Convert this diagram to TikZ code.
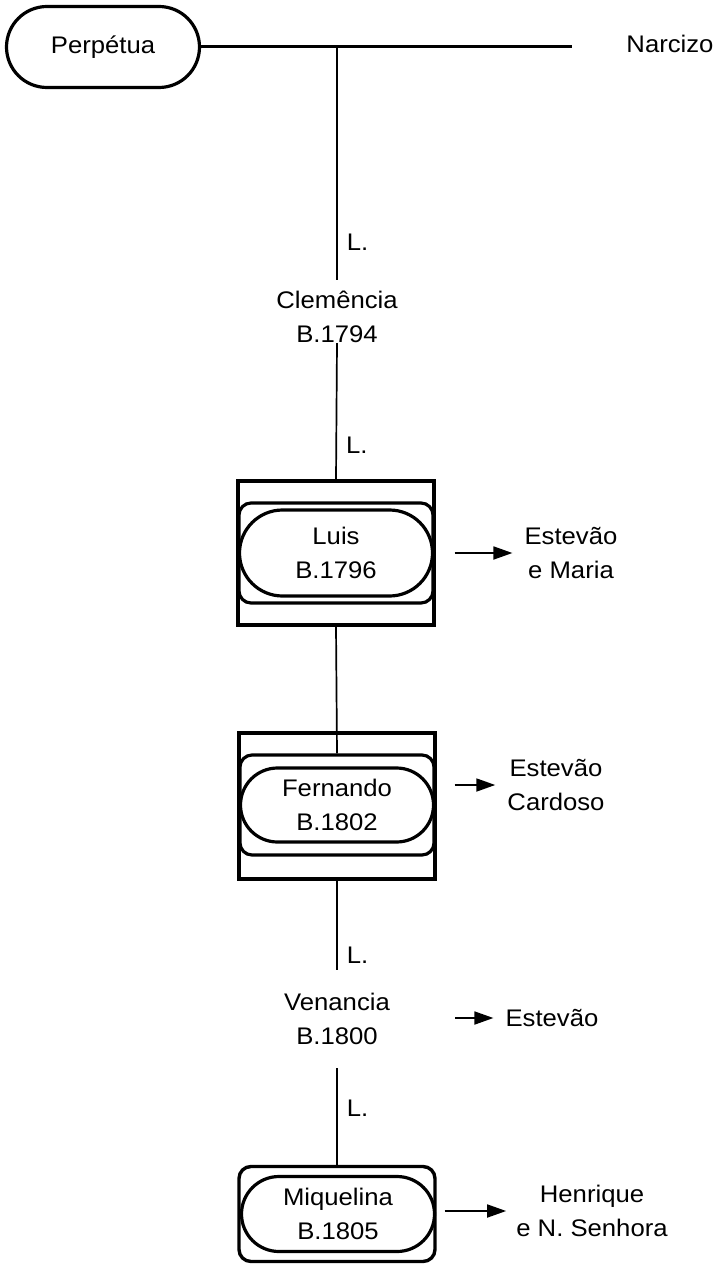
\documentclass[tikz,border=0pt]{standalone}
\usepackage{fontspec}
\setmainfont{Liberation Sans}[FakeStretch=1.07]
\usetikzlibrary{shapes.misc, arrows.meta}

\begin{document}
\begin{tikzpicture}[x=1pt, y=-1pt,
    every node/.style={font=\fontsize{24}{34}\selectfont, inner sep=0pt, align=center},
    pill/.style={rounded rectangle, draw, line width=3.2pt, minimum width=193pt},
    band/.style={draw, rounded corners=12pt, line width=3.2pt, minimum width=194pt, minimum height=100pt},
    frame/.style={draw, line width=3.4pt, minimum width=196pt, minimum height=144pt},
    link/.style={line width=1.7pt},
    gives/.style={line width=1.8pt, -{Triangle[length=19pt, width=13pt]}}]
    \useasboundingbox (0,0) rectangle (721,1265);

    % Couple at the top
    \node[pill, minimum height=81pt] (perpetua) at (103,47) {Perpétua};
    \node (narcizo) at (670,44) {Narcizo};
    \draw[line width=3pt, shorten >=54pt] (perpetua.east) -- (perpetua.east -| narcizo.west);

    % Descendants, one under the other (x = 337)
    \node (clemencia) at (337,317) {Clemência\\B.1794};
    \node[frame] (luis-frame) at (336,553) {};
    \node[band] (luis-band) at (336,553) {};
    \node[pill, minimum height=86pt] (luis) at (336,553) {Luis\\B.1796};
    \node[frame, minimum height=146pt] (fernando-frame) at (337,806) {};
    \node[band] (fernando-band) at (337,805) {};
    \node[pill, minimum height=74pt] (fernando) at (337,805) {Fernando\\B.1802};
    \node (venancia) at (337,1019) {Venancia\\B.1800};
    \node[draw, rounded corners=12pt, line width=3.4pt, minimum width=196pt, minimum height=95pt] (miquelina-frame) at (337,1214) {};
    \node[pill, minimum height=75pt] (miquelina) at (338,1214) {Miquelina\\B.1805};

    % Godparents on the right
    \node (luis-to) at (571,553) {Estevão\\e Maria};
    \node (fernando-to) at (556,785) {Estevão\\Cardoso};
    \node (venancia-to) at (552,1018) {Estevão};
    \node (miquelina-to) at (592,1211) {Henrique\\e N. Senhora};

    % Lines of descent
    \draw[link, shorten >=11pt] (perpetua.east -| clemencia) -- (clemencia.north)
        node[pos=0.8, right=9pt] {L.};
    \draw[link] (clemencia.south) -- (luis-frame.north)
        node[pos=0.75, right=9pt] {L.};
    \draw[link] (luis-frame.south) -- (fernando-band.north);
    \draw[link, shorten >=23pt] (fernando-frame.south) -- (venancia.north)
        node[pos=0.66, right=9pt] {L.};
    \draw[link, shorten <=23pt] (venancia.south) -- (miquelina-frame.north)
        node[pos=0.53, right=9pt] {L.};

    % Arrows to the godparents
    \draw[gives, shorten <=19pt, shorten >=12pt] (luis-frame.east |- luis-to) -- (luis-to.west);
    \draw[gives, shorten <=18pt, shorten >=12pt] (fernando-frame.east |- fernando-to) -- (fernando-to.west);
    \draw[gives, shorten <=65pt, shorten >=12pt] (venancia.east |- venancia-to) -- (venancia-to.west);
    \draw[gives, shorten <=8pt, shorten >=10pt] (miquelina-frame.east |- miquelina-to) -- (miquelina-to.west);
\end{tikzpicture}
\end{document}
